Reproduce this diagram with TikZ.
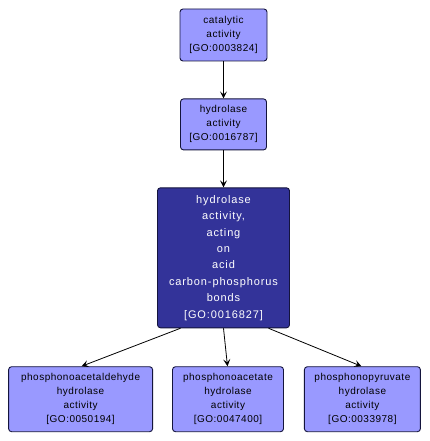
\documentclass[tikz,border=0pt]{standalone}
\usepackage{fontspec}
\setmainfont{Liberation Sans}
\newfontfamily\termfont[LetterSpace=5]{Liberation Sans}
\newfontfamily\focusfont[LetterSpace=8]{Liberation Sans}
\usetikzlibrary{arrows.meta,positioning}
\usepackage{xcolor}
\definecolor{TermBlue}{RGB}{153,153,255}
\definecolor{TermDark}{RGB}{51,51,153}
\definecolor{TermEdge}{RGB}{20,20,60}
\tikzset{
  term/.style={draw=TermEdge, rounded corners=3pt, fill=TermBlue,
    line width=0.9pt, inner sep=2pt, align=center,
    font=\termfont\fontsize{10}{14}\selectfont},
  focus/.style={draw=TermEdge, rounded corners=3pt, fill=TermDark,
    line width=0.9pt, inner sep=2pt, align=center, text=white,
    font=\focusfont\fontsize{11}{16.4}\selectfont},
  arrow/.style={-{Stealth[length=7pt,width=7pt,inset=3pt]}, line width=0.8pt, black}
}
\begin{document}
\begin{tikzpicture}[x=1pt,y=-1pt,node distance=37pt]
  \useasboundingbox[fill=white] (0,0) rectangle (430,441);
  \node[term,minimum width=87pt,minimum height=52pt] (cat) at (223.5,35)
    {catalytic\\activity\\{[GO:0003824]}};
  \node[term,minimum width=86pt,minimum height=51pt,below=of cat] (hyd)
    {hydrolase\\activity\\{[GO:0016787]}};
  \node[focus,minimum width=132pt,minimum height=140pt,below=of hyd] (cpb)
    {hydrolase\\activity,\\acting\\on\\acid\\carbon-phosphorus\\bonds\\{[GO:0016827]}};
  \node[term,minimum width=111pt,minimum height=65pt,below=38pt of cpb,xshift=4.5pt] (pac)
    {phosphonoacetate\\hydrolase\\activity\\{[GO:0047400]}};
  \node[term,minimum width=144pt,minimum height=65pt,left=19pt of pac] (pald)
    {phosphonoacetaldehyde\\hydrolase\\activity\\{[GO:0050194]}};
  \node[term,minimum width=116pt,minimum height=65pt,right=20pt of pac] (ppyr)
    {phosphonopyruvate\\hydrolase\\activity\\{[GO:0033978]}};
  \draw[arrow] (cat) -- (hyd);
  \draw[arrow] (hyd) -- (cpb);
  \draw[arrow] ([xshift=-43pt]cpb.south) -- ([xshift=1pt]pald.north);
  \draw[arrow] (cpb.south) -- ([xshift=-0.5pt]pac.north);
  \draw[arrow] ([xshift=45pt]cpb.south) -- ([xshift=-1pt]ppyr.north);
\end{tikzpicture}
\end{document}
